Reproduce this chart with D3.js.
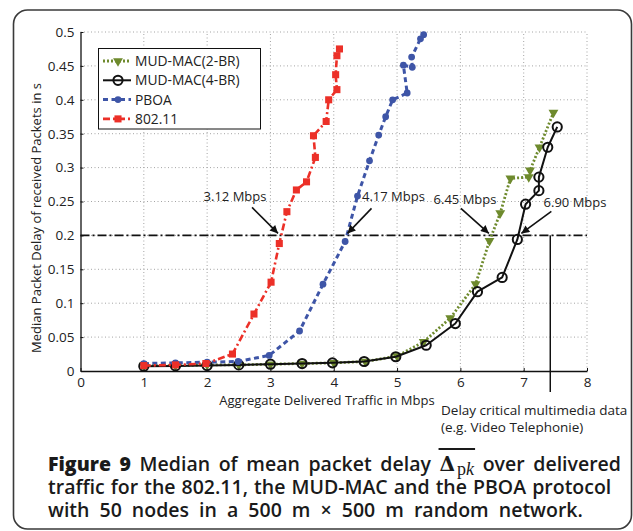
<!DOCTYPE html>
<html><head><meta charset="utf-8">
<script src="https://cdn.jsdelivr.net/npm/d3@7"></script>
<style>body{margin:0;background:#fff}svg{display:block}</style>
</head><body><svg id="c" width="633" height="531"></svg>
<script>
// ---- data ----
const xTicks = [0, 1, 2, 3, 4, 5, 6, 7, 8];
const yTicks = [0, 0.05, 0.1, 0.15, 0.2, 0.25, 0.3, 0.35, 0.4, 0.45, 0.5];
const seriesNames = ["MUD-MAC(2-BR)", "MUD-MAC(4-BR)", "PBOA", "802.11"];

const mud2X = [1.0, 1.5, 2.0, 2.5, 3.0, 3.5, 4.0, 4.5, 5.0, 5.42, 5.84, 6.24, 6.46, 6.63, 6.79, 7.08, 7.10, 7.25, 7.47];
const mud2Y = [0.008, 0.008, 0.009, 0.009, 0.010, 0.011, 0.012, 0.014, 0.022, 0.043, 0.078, 0.128, 0.192, 0.233, 0.284, 0.286, 0.296, 0.330, 0.381];

const mud4X = [1.0, 1.5, 2.0, 2.5, 3.0, 3.5, 3.98, 4.48, 4.98, 5.46, 5.92, 6.27, 6.66, 6.90, 7.03, 7.24, 7.24, 7.38, 7.53];
const mud4Y = [0.007, 0.0075, 0.008, 0.009, 0.010, 0.011, 0.012, 0.014, 0.021, 0.038, 0.070, 0.117, 0.138, 0.194, 0.246, 0.266, 0.286, 0.330, 0.360];

const pboaX = [1.0, 1.5, 2.0, 2.49, 2.98, 3.46, 3.83, 4.18, 4.375, 4.565, 4.71, 4.82, 4.93, 5.16, 5.10, 5.24, 5.23, 5.37, 5.42];
const pboaY = [0.011, 0.012, 0.013, 0.014, 0.023, 0.059, 0.128, 0.191, 0.258, 0.310, 0.348, 0.375, 0.400, 0.410, 0.451, 0.448, 0.463, 0.490, 0.496];

const w80211X = [1.0, 1.5, 1.98, 2.4, 2.74, 3.01, 3.14, 3.26, 3.41, 3.57, 3.71, 3.68, 3.88, 3.92, 4.05, 4.03, 4.05, 4.09];
const w80211Y = [0.008, 0.009, 0.011, 0.025, 0.084, 0.131, 0.188, 0.235, 0.267, 0.279, 0.315, 0.347, 0.368, 0.400, 0.415, 0.437, 0.465, 0.475];

const thresholdDelay = 0.2;
const crossingRates = [3.12, 4.17, 6.45, 6.90];
const crossingLabels = ["3.12 Mbps", "4.17 Mbps", "6.45 Mbps", "6.90 Mbps"];
const criticalX = 7.42;

// ---- drawing ----
const svg = d3.select("#c");
const FONT = "'Open Sans', 'DejaVu Sans', sans-serif";
const x = d3.scaleLinear().domain([0, 8]).range([80.5, 587]);
const y = d3.scaleLinear().domain([0, 0.5]).range([371, 32]);

const colors = ["#6e8a2d", "#111111", "#3e55a7", "#ec3028"];

// outer frame
svg.append("rect").attr("x", 13.5).attr("y", 10).attr("width", 618).attr("height", 519)
  .attr("rx", 14).attr("fill", "none").attr("stroke", "#3a3a3a").attr("stroke-width", 1.6);

// grid
const grid = svg.append("g");
grid.selectAll(".gx").data(xTicks.slice(1)).join("line")
  .attr("x1", d => x(d)).attr("x2", d => x(d)).attr("y1", y(0)).attr("y2", y(0.5))
  .attr("stroke", "#9a9a9a").attr("stroke-width", 0.9).attr("stroke-dasharray", "1,2.5");
grid.selectAll(".gy").data(yTicks.slice(1)).join("line")
  .attr("x1", x(0)).attr("x2", x(8)).attr("y1", d => y(d)).attr("y2", d => y(d))
  .attr("stroke", "#9a9a9a").attr("stroke-width", 0.9).attr("stroke-dasharray", "1,2.5");

// axes
const xAxis = d3.axisBottom(x).tickValues(xTicks).tickFormat(d3.format("d")).tickSizeInner(-3).tickSizeOuter(0).tickPadding(6);
const yAxis = d3.axisLeft(y).tickValues(yTicks).tickFormat(d => d === 0 ? "0" : String(+d.toFixed(2))).tickSizeInner(-3).tickSizeOuter(0).tickPadding(6);
const gx = svg.append("g").attr("transform", `translate(0,${y(0)})`).call(xAxis);
const gy = svg.append("g").attr("transform", `translate(${x(0)},0)`).call(yAxis);
[gx, gy].forEach(g => {
  g.select(".domain").attr("stroke", "#111").attr("stroke-width", 1.3);
  g.selectAll(".tick line").attr("stroke", "#111");
  g.selectAll(".tick text").attr("font-family", FONT).attr("font-size", 13.5).attr("fill", "#222");
});

// axis titles
svg.append("text").attr("x", 327).attr("y", 405).attr("text-anchor", "middle")
  .attr("font-family", FONT).attr("font-size", 13).attr("fill", "#222")
  .text("Aggregate Delivered Traffic in Mbps");
svg.append("text").attr("transform", "translate(41,218) rotate(-90)").attr("text-anchor", "middle")
  .attr("font-family", FONT).attr("font-size", 13).attr("fill", "#222")
  .text("Median Packet Delay of received Packets in s");

// threshold line & critical marker
svg.append("line").attr("x1", x(0)).attr("x2", x(8)).attr("y1", y(thresholdDelay)).attr("y2", y(thresholdDelay))
  .attr("stroke", "#111").attr("stroke-width", 1.6).attr("stroke-dasharray", "9,3,2,3");
svg.append("line").attr("x1", x(criticalX)).attr("x2", x(criticalX)).attr("y1", y(thresholdDelay)).attr("y2", 392)
  .attr("stroke", "#111").attr("stroke-width", 1.5);
svg.append("text").attr("x", 441).attr("y", 415).attr("font-family", FONT).attr("font-size", 13.5).attr("fill", "#222")
  .text("Delay critical multimedia data");
svg.append("text").attr("x", 441).attr("y", 431.5).attr("font-family", FONT).attr("font-size", 13.5).attr("fill", "#222")
  .text("(e.g. Video Telephonie)");

// series
const series = [
  {xs: mud2X, ys: mud2Y, color: colors[0], width: 2.8, dash: "2,2", marker: "tri"},
  {xs: mud4X, ys: mud4Y, color: colors[1], width: 2.0, dash: null, marker: "ocircle"},
  {xs: pboaX, ys: pboaY, color: colors[2], width: 3.0, dash: "5,3.5", marker: "dot"},
  {xs: w80211X, ys: w80211Y, color: colors[3], width: 2.6, dash: "7,3,2,3", marker: "square"}
];
const line = d3.line().x(d => x(d[0])).y(d => y(d[1]));
const triSym = d3.symbol().type(d3.symbolTriangle).size(42);
const sqSym = d3.symbol().type(d3.symbolSquare).size(50);

function drawMarker(g, m, color, cx, cy) {
  if (m === "tri") {
    g.append("path").attr("d", triSym()).attr("transform", `translate(${cx},${cy}) rotate(180)`).attr("fill", color);
  } else if (m === "ocircle") {
    g.append("circle").attr("cx", cx).attr("cy", cy).attr("r", 4.6).attr("fill", "none").attr("stroke", color).attr("stroke-width", 2);
  } else if (m === "dot") {
    g.append("circle").attr("cx", cx).attr("cy", cy).attr("r", 3.4).attr("fill", color);
  } else {
    g.append("path").attr("d", sqSym()).attr("transform", `translate(${cx},${cy})`).attr("fill", color);
  }
}

series.forEach(s => {
  const pts = s.xs.map((v, i) => [v, s.ys[i]]);
  const g = svg.append("g");
  g.append("path").attr("d", line(pts)).attr("fill", "none").attr("stroke", s.color)
    .attr("stroke-width", s.width).attr("stroke-dasharray", s.dash).attr("stroke-linejoin", "round");
  pts.forEach(p => drawMarker(g, s.marker, s.color, x(p[0]), y(p[1])));
});

// arrows
const defs = svg.append("defs");
defs.append("marker").attr("id", "ah").attr("viewBox", "0 0 10 10").attr("refX", 10).attr("refY", 5)
  .attr("markerWidth", 11).attr("markerHeight", 8).attr("markerUnits", "userSpaceOnUse").attr("orient", "auto")
  .append("path").attr("d", "M0,0 L10,5 L0,10 Z").attr("fill", "#111");

const arrowOffsets = [[-26, -26], [24, -25], [-28, -25], [30, -22]];
const labelPos = [[235, 201, "middle"], [362, 201, "start"], [465, 204, "middle"], [575, 207, "middle"]];
const headShift = [0, 3, 0, 4];
crossingRates.forEach((r, i) => {
  const hx = x(r) + headShift[i], hy = y(thresholdDelay) - 2;
  svg.append("line").attr("x1", hx + arrowOffsets[i][0]).attr("y1", hy + arrowOffsets[i][1])
    .attr("x2", hx).attr("y2", hy).attr("stroke", "#111").attr("stroke-width", 1.6).attr("marker-end", "url(#ah)");
  svg.append("text").attr("x", labelPos[i][0]).attr("y", labelPos[i][1]).attr("text-anchor", labelPos[i][2])
    .attr("font-family", FONT).attr("font-size", 13).attr("fill", "#222").text(crossingLabels[i]);
});

// legend
const lg = svg.append("g");
lg.append("rect").attr("x", 98.5).attr("y", 48.5).attr("width", 162).attr("height", 80.5)
  .attr("fill", "#fff").attr("stroke", "#111").attr("stroke-width", 1);
series.forEach((s, i) => {
  const cy = 61 + i * 19.3;
  lg.append("line").attr("x1", 103).attr("x2", 131).attr("y1", cy).attr("y2", cy)
    .attr("stroke", s.color).attr("stroke-width", s.width).attr("stroke-dasharray", s.dash);
  drawMarker(lg, s.marker, s.color, 118, cy);
  lg.append("text").attr("x", 135).attr("y", cy + 5).attr("font-family", FONT).attr("font-size", 13.8)
    .attr("fill", "#222").text(seriesNames[i]);
});

// caption (line 1 justified word by word)
const CAPFS = 19.5;
const cap = svg.append("g").attr("font-family", FONT).attr("font-size", CAPFS).attr("fill", "#1a1a1a").attr("font-weight", 600);
const words1 = [
  {t: "Figure", w: 800}, {t: "9", w: 800}, {t: "Median"}, {t: "of"}, {t: "mean"}, {t: "packet"}, {t: "delay"},
  {delta: true}, {t: "over"}, {t: "delivered"}
];
const y1 = 471, left = 48, right = 621;
const nodes = words1.map(wd => {
  if (wd.delta) {
    const g = cap.append("g");
    const dT = g.append("text").attr("y", y1).attr("font-family", "'DejaVu Serif', serif").attr("font-weight", "bold")
      .attr("font-size", 20).text("\u0394");
    const sub = g.append("text").attr("y", y1 + 4).attr("font-family", "'Liberation Serif', serif").attr("font-weight", 400).attr("font-size", 18);
    sub.append("tspan").text("p");
    sub.append("tspan").attr("font-style", "italic").text("k");
    const dw = dT.node().getComputedTextLength();
    const sw = sub.node().getComputedTextLength();
    sub.attr("x", dw + 2);
    g.append("line").attr("x1", -1).attr("x2", dw + 2 + sw + 1).attr("y1", y1 - 22).attr("y2", y1 - 22)
      .attr("stroke", "#1a1a1a").attr("stroke-width", 1.8);
    return {node: g, width: dw + 2 + sw, isG: true};
  }
  const t = cap.append("text").attr("y", y1).text(wd.t);
  if (wd.w) t.attr("font-weight", wd.w);
  return {node: t, width: t.node().getComputedTextLength()};
});
const totalW = d3.sum(nodes, d => d.width);
const gap = (right - left - totalW) / (nodes.length - 1);
let cx = left;
nodes.forEach(n => {
  if (n.isG) n.node.attr("transform", `translate(${cx},0)`);
  else n.node.attr("x", cx);
  cx += n.width + gap;
});

cap.append("text").attr("x", 48).attr("y", 494).attr("word-spacing", 1)
  .text("traffic for the 802.11, the MUD-MAC and the PBOA protocol");
cap.append("text").attr("x", 48).attr("y", 517).attr("word-spacing", 5)
  .text("with 50 nodes in a 500 m \u00d7 500 m random network.");
</script></body></html>
